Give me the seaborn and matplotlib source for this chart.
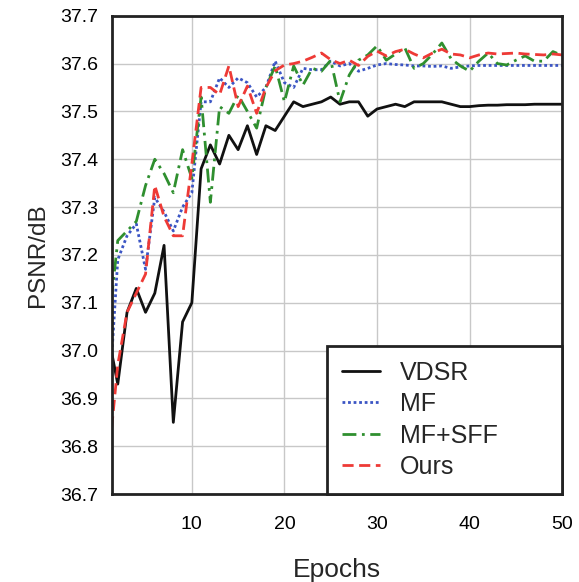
import pandas as pd
import numpy as np
import seaborn as sns
import matplotlib.pyplot as plt

# valores
epochs = list(range(1, 51))
vdsr = [37.03, 36.93, 37.08, 37.13, 37.08, 37.12, 37.22, 36.85, 37.06, 37.10,
        37.38, 37.43, 37.39, 37.45, 37.42, 37.47, 37.41, 37.47, 37.46, 37.49,
        37.52, 37.51, 37.515, 37.52, 37.53, 37.515, 37.52, 37.52, 37.49, 37.505,
        37.51, 37.515, 37.51, 37.52, 37.52, 37.52, 37.52, 37.515, 37.51, 37.51,
        37.512, 37.513, 37.513, 37.514, 37.514, 37.514, 37.515, 37.515, 37.515, 37.515]
mf = [36.88, 37.19, 37.24, 37.265, 37.17, 37.32, 37.29, 37.25, 37.30, 37.33,
      37.52, 37.52, 37.57, 37.55, 37.57, 37.56, 37.53, 37.55, 37.605, 37.56,
      37.55, 37.59, 37.587, 37.587, 37.605, 37.595, 37.60, 37.584, 37.59, 37.597,
      37.60, 37.598, 37.597, 37.595, 37.595, 37.594, 37.595, 37.59, 37.593, 37.595,
      37.596, 37.596, 37.596, 37.596, 37.596, 37.596, 37.596, 37.596, 37.596, 37.596]
mf_sff = [37.05, 37.23, 37.25, 37.27, 37.345, 37.40, 37.37, 37.33, 37.42, 37.36,
          37.53, 37.31, 37.51, 37.496, 37.534, 37.50, 37.465, 37.55, 37.595, 37.52,
          37.595, 37.555, 37.59, 37.584, 37.607, 37.52, 37.576, 37.607, 37.618, 37.637,
          37.607, 37.62, 37.633, 37.59, 37.60, 37.62, 37.643, 37.61, 37.595, 37.584,
          37.605, 37.622, 37.60, 37.597, 37.607, 37.616, 37.605, 37.605, 37.625, 37.617]
ours = [36.77, 36.97, 37.08, 37.12, 37.16, 37.345, 37.28, 37.24, 37.24, 37.39,
        37.55, 37.55, 37.535, 37.595, 37.51, 37.553, 37.496, 37.55, 37.585, 37.597,
        37.60, 37.605, 37.613, 37.622, 37.608, 37.60, 37.607, 37.596, 37.615, 37.626,
        37.616, 37.625, 37.63, 37.62, 37.612, 37.622, 37.63, 37.62, 37.618, 37.612,
        37.618, 37.622, 37.62, 37.621, 37.622, 37.62, 37.619, 37.618, 37.62, 37.618]
nombres = ['VDSR', 'MF', 'MF+SFF', 'Ours']

df = pd.DataFrame({
    'Epochs': epochs * 4,
    'PSNR': vdsr + mf + mf_sff + ours,
    'metodo': [n for n in nombres for _ in epochs],
})

sns.set_style('white')
plt.rcParams['font.family'] = ['Liberation Sans', 'DejaVu Sans']

fig = plt.figure(figsize=(5.79, 5.82), dpi=100)
ax = fig.add_axes([0.193, 0.151, 0.778, 0.822])

colores = {'VDSR': '#111111', 'MF': '#3b55c4', 'MF+SFF': '#2f8f2f', 'Ours': '#ee3a36'}
rayas = {'VDSR': '', 'MF': (1, 1), 'MF+SFF': (5, 2, 1, 2), 'Ours': (4, 2)}
sns.lineplot(data=df, x='Epochs', y='PSNR', hue='metodo', style='metodo',
             palette=colores, dashes=rayas, linewidth=2, ax=ax)

ax.set_xlim(1.35, 50)
ax.set_ylim(36.7, 37.7)
ax.set_xticks([10, 20, 30, 40, 50])
ax.set_yticks(np.round(np.arange(36.7, 37.71, 0.1), 1))
ax.set_yticklabels(['%.1f' % v for v in np.arange(36.7, 37.71, 0.1)])
ax.grid(True, color='#c8c8c8', linewidth=1)
ax.set_axisbelow(True)
ax.tick_params(direction='in', length=5, width=1.5, labelsize=14, colors='black', pad=10)
ax.tick_params(axis='x', pad=16)
for s in ax.spines.values():
    s.set_color('#222222')
    s.set_linewidth(2)
ax.set_xlabel('Epochs', fontsize=19, labelpad=18)
ax.set_ylabel('PSNR/dB', fontsize=17.5, labelpad=8)

h, l = ax.get_legend_handles_labels()
leg = ax.legend(h, l, loc='lower left', bbox_to_anchor=(0.478, 0, 0.522, 0.32),
                mode='expand', borderaxespad=0, fontsize=18, frameon=True,
                fancybox=False, edgecolor='#222222', handlelength=1.5, handletextpad=0.8,
                labelspacing=0.3, borderpad=0.6)
leg.get_frame().set_linewidth(2)
leg.get_frame().set_alpha(1)

plt.savefig('out.png', dpi=100)
